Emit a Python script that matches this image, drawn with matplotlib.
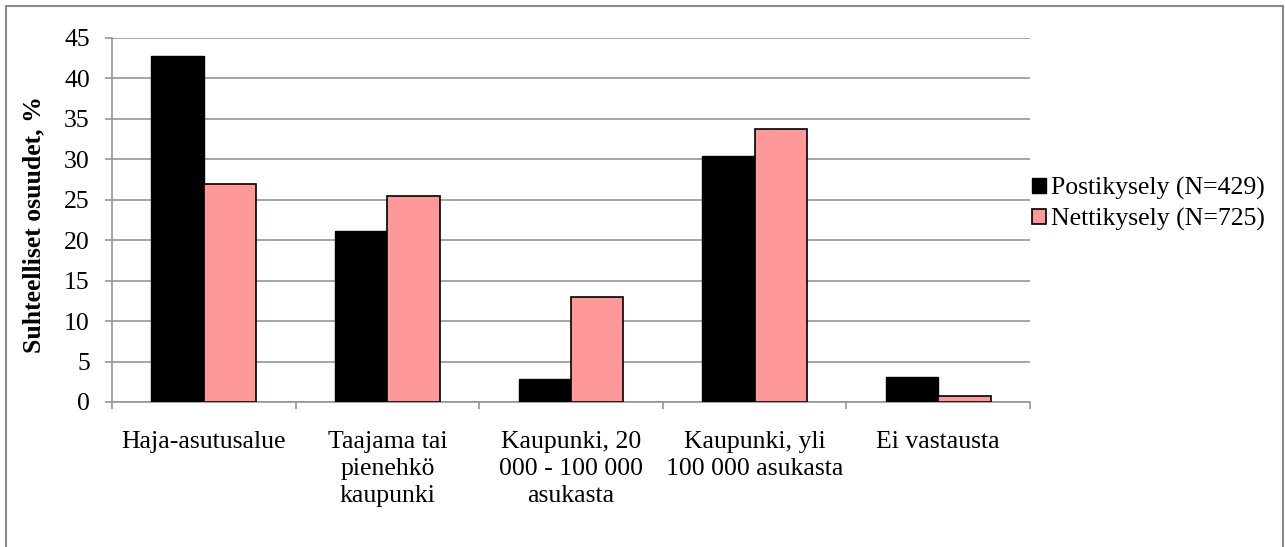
import matplotlib
matplotlib.use("Agg")
import matplotlib.pyplot as plt
import numpy as np
from matplotlib.patches import Rectangle

categories = ["Haja-asutusalue", "Taajama tai\npienehkö\nkaupunki", "Kaupunki, 20\n000 - 100 000\nasukasta",
              "Kaupunki, yli\n100 000 asukasta", "Ei vastausta"]
posti = [42.8, 21.2, 2.9, 30.4, 3.1]
netti = [27.0, 25.5, 13.0, 33.8, 0.8]
series_names = ["Postikysely (N=429)", "Nettikysely (N=725)"]
yticks = [0, 5, 10, 15, 20, 25, 30, 35, 40, 45]

plt.rcParams['font.family'] = ['Liberation Serif', 'DejaVu Serif']
FS = 18.5

W, H = 1285, 547
fig = plt.figure(figsize=(W/100, H/100), dpi=100)
fig.patches.append(Rectangle((5.5/W, -0.01), (1283-5.5)/W, 1 - 6/H + 0.01, transform=fig.transFigure,
                             fill=False, edgecolor='#888888', linewidth=1.5))
ax = fig.add_axes([112/W, 1-402/H, (1030-112)/W, (402-38)/H])

x = np.arange(len(categories))
w = 1/3.5
ax.bar(x - w/2, posti, w, color='black', edgecolor='black', linewidth=1, label=series_names[0], zorder=3)
ax.bar(x + w/2, netti, w, color='#FF9999', edgecolor='black', linewidth=1.2, label=series_names[1], zorder=3)

ax.set_xlim(-0.5, len(categories) - 0.5)
ax.set_ylim(0, 45)
ax.set_yticks(yticks)
ax.yaxis.grid(True, color='#969696', linewidth=1.2, zorder=0)
ax.set_axisbelow(True)
for s in ['top', 'right']:
    ax.spines[s].set_visible(False)
for s in ['left', 'bottom']:
    ax.spines[s].set_color('#969696')
    ax.spines[s].set_linewidth(1.2)

ax.set_xticks(x)
ax.set_xticklabels(categories, fontsize=FS, linespacing=1.3)
ax.tick_params(axis='x', length=0, pad=21)
ax.set_xticks(np.arange(-0.5, len(categories)), minor=True)
ax.tick_params(axis='x', which='minor', length=5, color='#969696', width=1.2)
ax.tick_params(axis='y', labelsize=FS, length=5, color='#969696', width=1.2, pad=11)

ax.set_ylabel("Suhteelliset osuudet, %", fontsize=FS, fontweight='bold')
ax.yaxis.set_label_coords(45/W, 1-225/H, transform=fig.transFigure)

leg = fig.legend(*ax.get_legend_handles_labels(), loc='center left',
                 bbox_to_anchor=(1032/W, 1-204/H), bbox_transform=fig.transFigure,
                 frameon=False, fontsize=FS, borderpad=0, borderaxespad=0,
                 handlelength=0.55, handleheight=0.55, handletextpad=0.2, labelspacing=0.3)

fig.savefig("out.png", dpi=100)
